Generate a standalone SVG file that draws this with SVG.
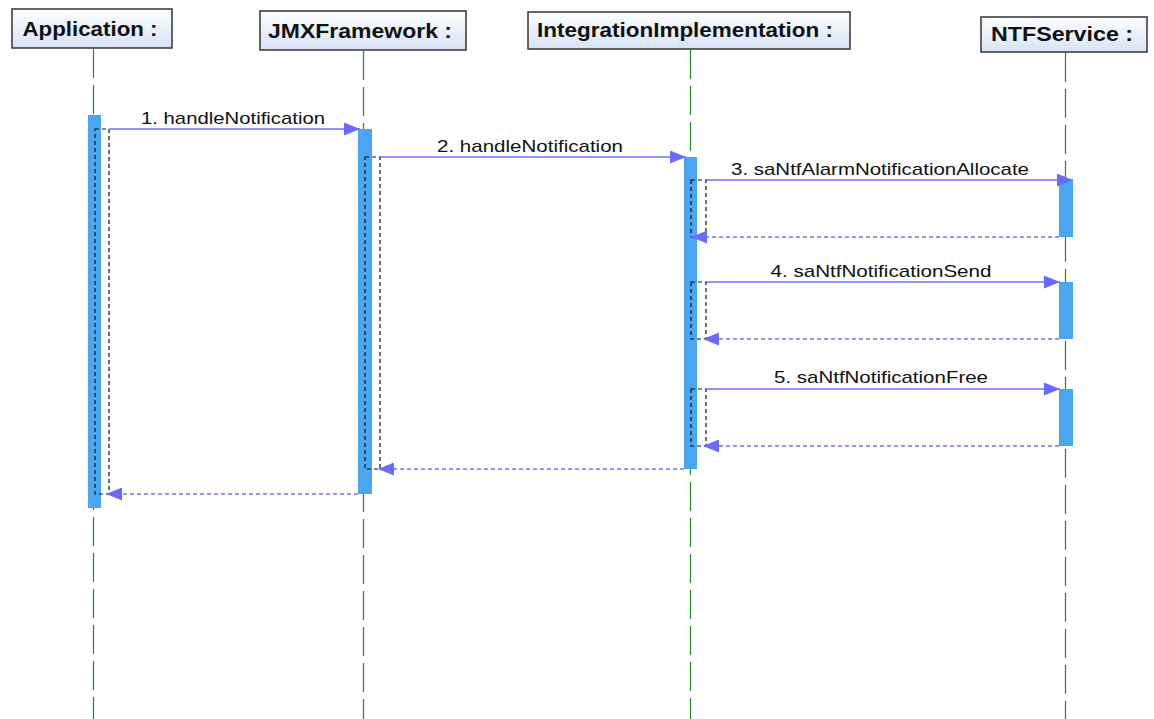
<svg xmlns="http://www.w3.org/2000/svg" width="1154" height="719" viewBox="0 0 1154 719">
<style>
.hdr{fill:url(#hg);stroke:#333;stroke-width:1.5}
.ht{font-family:"Liberation Sans",Arial,sans-serif;font-weight:bold;font-size:20px;fill:#111;text-anchor:middle}
.life{stroke:#1E8C1E;stroke-width:1.2;stroke-dasharray:29,7;fill:none}
.act{fill:#4AA6F0}
.nest{fill:none;stroke:#111;stroke-width:1.2;stroke-dasharray:4,3}
.msg{stroke:#7070FF;stroke-width:1.3;fill:none;marker-end:url(#ah)}
.ret{stroke:#7070FF;stroke-width:1.3;fill:none;stroke-dasharray:4,3;marker-end:url(#ah)}
.lbl{font-family:"Liberation Sans",Arial,sans-serif;font-size:17px;fill:#111;text-anchor:middle}
</style>
<defs>
<linearGradient id="hg" x1="0" y1="0" x2="0" y2="1">
<stop offset="0" stop-color="#FFFFFF"/>
<stop offset="1" stop-color="#D6E3F5"/>
</linearGradient>
<marker id="ah" markerWidth="17" markerHeight="13" refX="16" refY="6.5" orient="auto" markerUnits="userSpaceOnUse">
<path d="M0,0 L16,6.5 L0,13 Z" fill="#6A6AFF"/>
</marker>
</defs>
<rect width="1154" height="719" fill="#fff"/>
<g id="lifelines">
<line class="life" x1="93.5" y1="49" x2="93.5" y2="719"/>
<line class="life" x1="363.5" y1="51" x2="363.5" y2="719"/>
<line class="life" x1="690.5" y1="50" x2="690.5" y2="719"/>
<line class="life" x1="1065.5" y1="53" x2="1065.5" y2="719"/>
</g>
<g id="node-application">
<rect class="hdr" x="12" y="9" width="160" height="39"/>
<text class="ht" x="90" y="36" textLength="135" lengthAdjust="spacingAndGlyphs">Application :</text>
<rect class="act" x="88" y="115" width="13" height="393"/>
<rect class="nest" x="95" y="129" width="14" height="365"/>
</g>
<g id="node-jmxframework">
<rect class="hdr" x="260" y="11" width="206" height="39"/>
<text class="ht" x="360" y="38" textLength="184" lengthAdjust="spacingAndGlyphs">JMXFramework :</text>
<rect class="act" x="358" y="129" width="14" height="365"/>
<rect class="nest" x="365" y="157" width="15" height="312"/>
</g>
<g id="node-integrationimplementation">
<rect class="hdr" x="528" y="12" width="322" height="37"/>
<text class="ht" x="685" y="37" textLength="296" lengthAdjust="spacingAndGlyphs">IntegrationImplementation :</text>
<rect class="act" x="684" y="157" width="13" height="312"/>
<rect class="nest" x="691" y="180" width="15" height="57"/>
<rect class="nest" x="691" y="282" width="15" height="57"/>
<rect class="nest" x="691" y="389" width="15" height="57"/>
</g>
<g id="node-ntfservice">
<rect class="hdr" x="981" y="17" width="166" height="35"/>
<text class="ht" x="1062" y="41" textLength="142" lengthAdjust="spacingAndGlyphs">NTFService :</text>
<rect class="act" x="1059" y="180" width="14" height="57"/>
<rect class="act" x="1059" y="282" width="14" height="57"/>
<rect class="act" x="1059" y="389" width="14" height="57"/>
</g>
<g id="connectors">
<line class="msg" x1="109" y1="129" x2="360" y2="129"/>
<line class="msg" x1="380" y1="157" x2="686" y2="157"/>
<line class="msg" x1="706" y1="180" x2="1073" y2="180"/>
<line class="ret" x1="1059" y1="237" x2="691" y2="237"/>
<line class="msg" x1="706" y1="282" x2="1060" y2="282"/>
<line class="ret" x1="1059" y1="339" x2="703" y2="339"/>
<line class="msg" x1="706" y1="389" x2="1060" y2="389"/>
<line class="ret" x1="1059" y1="446" x2="703" y2="446"/>
<line class="ret" x1="684" y1="469" x2="378" y2="469"/>
<line class="ret" x1="358" y1="494" x2="106" y2="494"/>
<text class="lbl" x="233" y="124" textLength="184" lengthAdjust="spacingAndGlyphs">1. handleNotification</text>
<text class="lbl" x="530" y="152" textLength="186" lengthAdjust="spacingAndGlyphs">2. handleNotification</text>
<text class="lbl" x="880" y="175" textLength="298" lengthAdjust="spacingAndGlyphs">3. saNtfAlarmNotificationAllocate</text>
<text class="lbl" x="881" y="277" textLength="221" lengthAdjust="spacingAndGlyphs">4. saNtfNotificationSend</text>
<text class="lbl" x="881" y="383" textLength="214" lengthAdjust="spacingAndGlyphs">5. saNtfNotificationFree</text>
</g>
</svg>
